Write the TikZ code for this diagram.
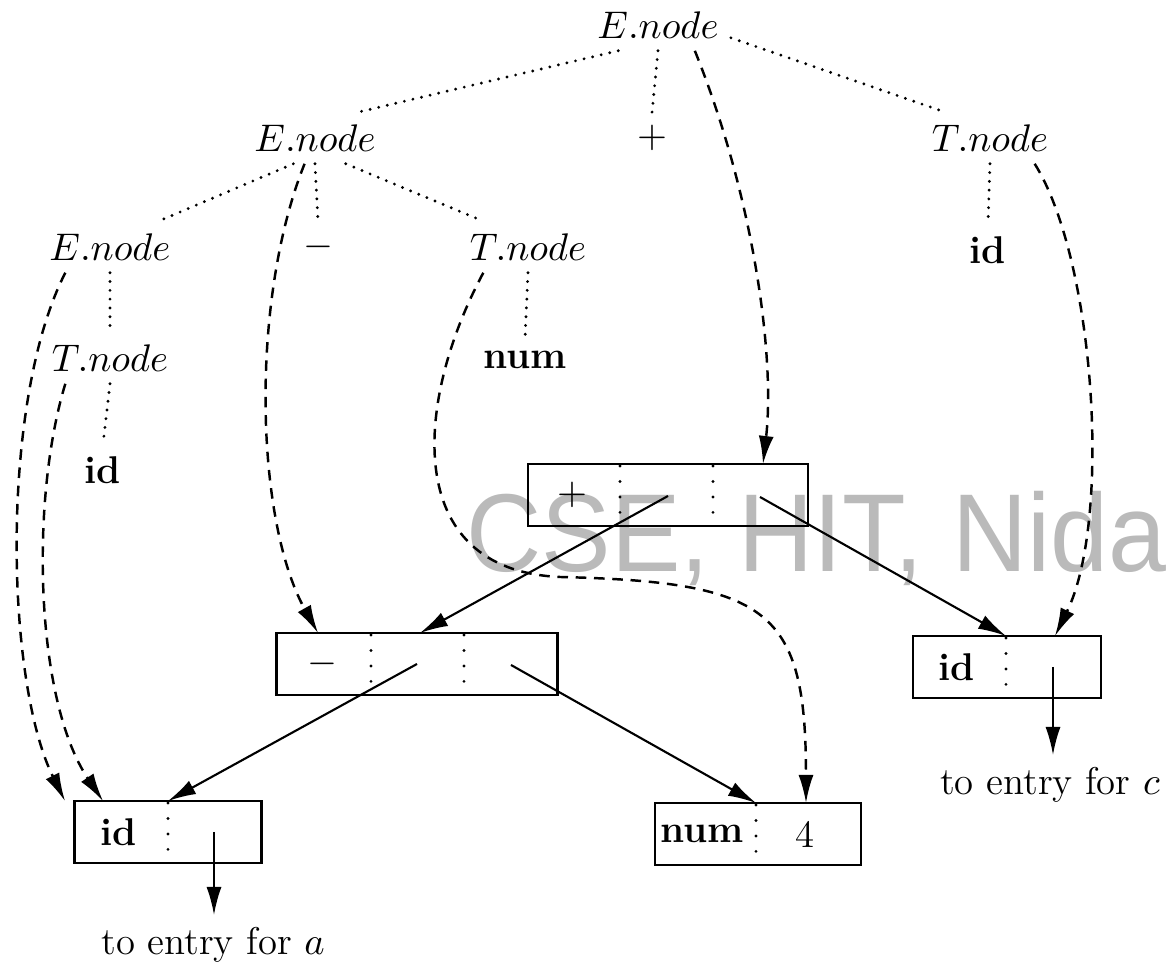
\documentclass[tikz,border=0pt]{standalone}
\usepackage{graphicx}
\usepackage{fontspec}
\newfontfamily\wmfont{Liberation Sans}
\usetikzlibrary{arrows.meta}
\begin{document}
\begin{tikzpicture}[x=0.01cm, y=-0.01cm,
    every node/.style={font=\fontsize{11}{13}\selectfont},
    tree/.style={line width=0.9pt, line cap=round, dash pattern=on 0pt off 2.5pt},
    link/.style={line width=0.7pt, dash pattern=on 3pt off 2.2pt, -{Latex[length=2.8mm,width=1.5mm]}},
    ptr/.style={line width=0.6pt, -{Latex[length=2.8mm,width=1.5mm]}},
    rec/.style={draw, line width=0.8pt, minimum height=0.62cm, inner sep=0pt},
    sep/.style={line width=0.9pt, line cap=round, dash pattern=on 0pt off 4.4pt}]
      \useasboundingbox (0,0) rectangle (1172,974);
      \node[anchor=base west, inner sep=0pt, text=black!27, font=\fontsize{31.5}{33}\selectfont\wmfont] (wm) at (466,572) {\scalebox{0.94}[1]{CSE, HIT, Nida}};
      % parse tree
      \node (e1) at (658,25) {$E.node$};
      \node (e2) at (315,138) {$E.node$};
      \node (plus) at (652,138) {$+$};
      \node (t1) at (990,138) {$T.node$};
      \node (e3) at (110,247) {$E.node$};
      \node (minus) at (318,247) {$-$};
      \node (t2) at (528,247) {$T.node$};
      \node (idt) at (988,250) {\textbf{id}};
      \node (t3) at (110,358) {$T.node$};
      \node (num) at (525,360) {\textbf{num}};
      \node (idx) at (103,470) {\textbf{id}};
      \foreach \source/\dest in {e1.-147/e2.31, e1.south/plus.north, e1.-10/t1.150, e2.-130/e3.28, e2.south/minus.north, e2.-40/t2.150, t1.south/idt.north, e3.south/t3.north, t2.south/num.north, t3.south/idx.north}
        \path (\source) edge[tree] (\dest);
      % syntax tree records
      \node[rec, minimum width=2.80cm] (pbox) at (668,495) {};
      \node[rec, minimum width=2.81cm] (mbox) at (417,664) {};
      \node[rec, minimum width=1.88cm] (rbox) at (1007,667) {};
      \node[rec, minimum width=1.87cm] (lbox) at (168,832) {};
      \node[rec, minimum width=2.06cm] (nbox) at (758,834) {};
      \foreach \x/\y in {620/495, 713/495, 371/664, 464/664, 1006/667, 168/832, 756/834}
        \draw[sep] (\x,\y-29) -- (\x,\y+29);
      \node (pop) at (572,495) {$+$};
      \node (mop) at (322,664) {$-$};
      \node (rid) at (957,667) {\textbf{id}};
      \node (lid) at (119,832) {\textbf{id}};
      \node (nnum) at (702,834) {\textbf{num}};
      \node (nval) at (805,834) {4};
      \node (toa) at (213,945) {to entry for $a$};
      \node (toc) at (1050,785) {to entry for $c$};
      \coordinate (p2) at (668,496);
      \coordinate (p3) at (760,497);
      \coordinate (m2) at (417,664);
      \coordinate (m3) at (511,665);
      \coordinate (r2) at (1053,667);
      \coordinate (l2) at (214,832);
      \coordinate (pin) at (763,464);
      \coordinate (min) at (318,633);
      \coordinate (mtop) at (420,633);
      \coordinate (rin) at (1055,636);
      \coordinate (rtop) at (1006,636);
      \coordinate (lin1) at (65,801);
      \coordinate (lin2) at (103,801);
      \coordinate (ltop) at (168,801);
      \coordinate (nin) at (806,803);
      \coordinate (ntop) at (756,803);
      % pointers
      \draw[ptr] (p2) -- (mtop);
      \draw[ptr] (p3) -- (rtop);
      \draw[ptr] (m2) -- (ltop);
      \draw[ptr] (m3) -- (ntop);
      \draw[ptr] (l2) -- (l2 |- toa.north);
      \draw[ptr] (r2) -- (r2 |- toc.north);
      % node attributes
      \draw[link] (e1.-35) .. controls (755,200) and (775,360) .. (pin);
      \draw[link] (e2.-112) .. controls (250,300) and (255,520) .. (min);
      \draw[link] (t1.-30) .. controls (1095,260) and (1112,520) .. (rin);
      \draw[link] (e3.-150) .. controls (0,400) and (5,680) .. (lin1);
      \draw[link] (t3.-150) .. controls (30,500) and (35,700) .. (lin2);
      \draw[link] (t2.-150) .. controls (415,400) and (400,570) .. (560,577) .. controls (770,582) and (806,610) .. (nin);
\end{tikzpicture}
\end{document}
